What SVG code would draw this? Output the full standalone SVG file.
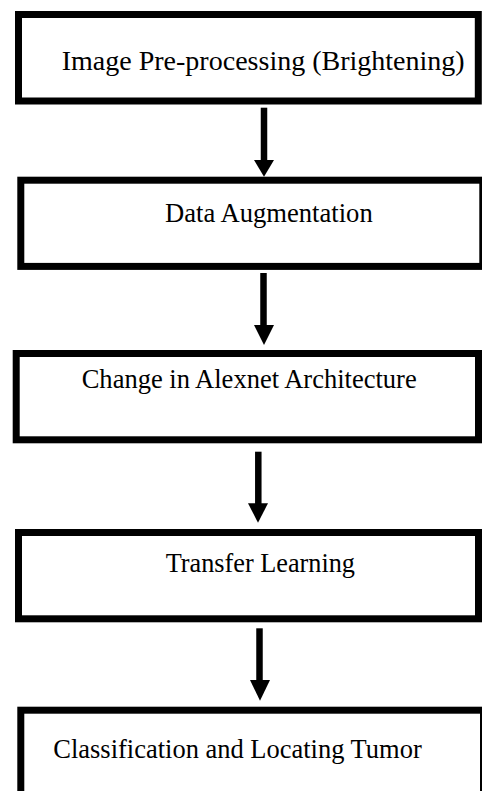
<svg xmlns="http://www.w3.org/2000/svg" width="482" height="791" viewBox="0 0 482 791">
  <style>
    .box { fill: #ffffff; stroke: #000000; stroke-width: 7; }
    .label { font-family: "Liberation Serif", "Times New Roman", serif; font-size: 26.5px; fill: #000000; }
    .shaft { stroke: #000000; stroke-width: 6.5; }
    .head { fill: #000000; }
  </style>
  <rect x="0" y="0" width="482" height="791" fill="#ffffff"/>

  <g id="connectors">
    <line class="shaft" x1="264" y1="107.7" x2="264" y2="161"/>
    <polygon class="head" points="254,160 274,160 264,176.7"/>
    <line class="shaft" x1="263.5" y1="273" x2="263.5" y2="326"/>
    <polygon class="head" points="254,325 274,325 264,345"/>
    <line class="shaft" x1="258.3" y1="451.7" x2="258.3" y2="504"/>
    <polygon class="head" points="248,503.3 268,503.3 258,522.7"/>
    <line class="shaft" x1="259.5" y1="628.3" x2="259.5" y2="681"/>
    <polygon class="head" points="250,680 270,680 260,700.7"/>
  </g>

  <g id="node-preprocessing">
    <rect class="box" x="18.5" y="14.5" width="459.8" height="86.5"/>
    <text class="label" x="61.7" y="70" textLength="403" lengthAdjust="spacingAndGlyphs">Image Pre-processing (Brightening)</text>
  </g>

  <g id="node-augmentation">
    <rect class="box" x="20.8" y="180.2" width="462" height="86.2"/>
    <text class="label" x="165" y="221.5" textLength="207.7" lengthAdjust="spacingAndGlyphs">Data Augmentation</text>
  </g>

  <g id="node-alexnet">
    <rect class="box" x="16.2" y="353.5" width="462.3" height="86.3"/>
    <text class="label" x="81.7" y="388" textLength="335" lengthAdjust="spacingAndGlyphs">Change in Alexnet Architecture</text>
  </g>

  <g id="node-transfer">
    <rect class="box" x="18.5" y="532.5" width="460" height="86.3"/>
    <text class="label" x="165.7" y="572" textLength="189.3" lengthAdjust="spacingAndGlyphs">Transfer Learning</text>
  </g>

  <g id="node-classification">
    <rect class="box" x="20.8" y="710.2" width="462.7" height="100"/>
    <text class="label" x="53.3" y="757.5" textLength="368.4" lengthAdjust="spacingAndGlyphs">Classification and Locating Tumor</text>
  </g>
</svg>
